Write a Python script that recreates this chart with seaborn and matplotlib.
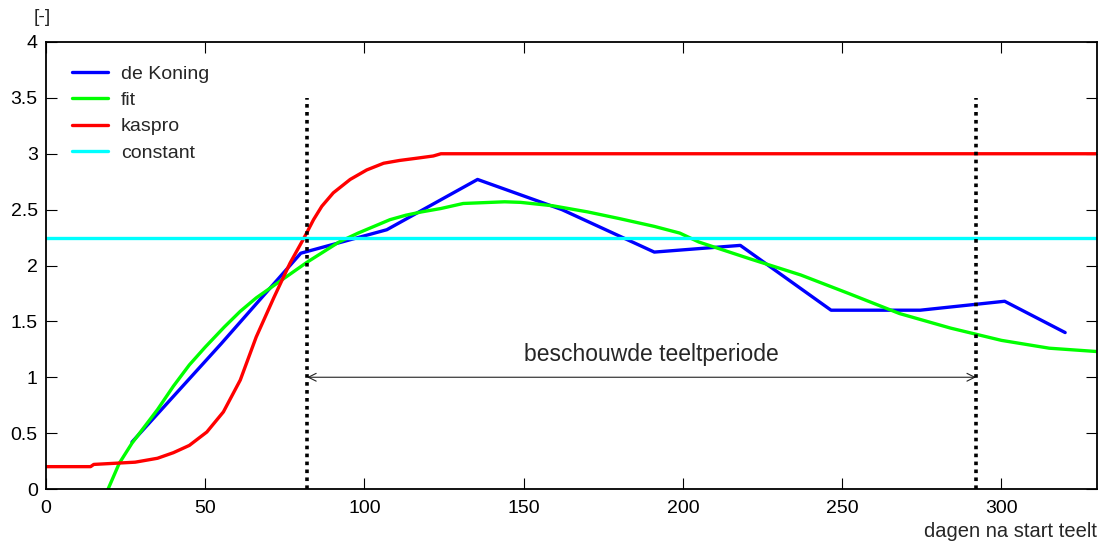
import matplotlib
matplotlib.use("Agg")
import matplotlib.pyplot as plt
import seaborn as sns
import pandas as pd

# Measured light-use values ("de Koning"), days after start of cultivation
koning_days = [27, 55, 80, 107, 135.5, 162, 191, 218, 246.5, 274.5, 301, 320]
koning_vals = [0.42, 1.30, 2.11, 2.32, 2.77, 2.50, 2.12, 2.18, 1.60, 1.60, 1.68, 1.40]

# Fitted curve
fit_days = [19.5, 23, 27, 35, 40, 45, 50, 56, 61, 66, 71, 77, 82, 87, 92, 98,
            103, 108, 113, 118, 124, 131, 144, 149, 159, 170, 180, 191, 199,
            205, 221, 237, 252, 268, 284, 300, 315, 330]
fit_vals = [0.0, 0.23, 0.41, 0.71, 0.92, 1.11, 1.27, 1.45, 1.59, 1.71, 1.81,
            1.93, 2.03, 2.12, 2.21, 2.29, 2.35, 2.41, 2.45, 2.48, 2.51, 2.555,
            2.57, 2.565, 2.535, 2.48, 2.42, 2.35, 2.29, 2.21, 2.06, 1.915,
            1.75, 1.57, 1.44, 1.33, 1.26, 1.23]

# KASPRO model curve
kaspro_days = [0, 14, 15, 28, 35, 40, 45, 50.5, 55.7, 61, 66, 71.5, 76.6,
               80.5, 82, 84, 86.6, 90.2, 95.5, 100.7, 106, 111, 116.4, 121.6,
               124, 330]
kaspro_vals = [0.20, 0.20, 0.22, 0.24, 0.275, 0.325, 0.39, 0.51, 0.69, 0.975,
               1.36, 1.71, 2.02, 2.22, 2.30, 2.41, 2.53, 2.65, 2.77, 2.855,
               2.915, 2.94, 2.96, 2.98, 3.0, 3.0]

# Constant value over the whole season
constant_days = [0, 330]
constant_vals = [2.25, 2.25]

# Considered cultivation period
period_start = 82
period_end = 292
period_marker_top = 3.5
period_arrow_level = 1.0
period_label = "beschouwde teeltperiode"

x_ticks = [0, 50, 100, 150, 200, 250, 300]
y_ticks = [0, 0.5, 1, 1.5, 2, 2.5, 3, 3.5, 4]
y_tick_labels = ["0", "0.5", "1", "1.5", "2", "2.5", "3", "3.5", "4"]

sns.set_style("ticks")
plt.rcParams["font.family"] = ["Liberation Sans", "DejaVu Sans"]

fig = plt.figure(figsize=(11.03, 5.47), dpi=100)
ax = fig.add_axes([46 / 1103, 58 / 547, 1051 / 1103, 447 / 547])

series = [
    ("de Koning", koning_days, koning_vals, (0, 0, 1)),
    ("fit", fit_days, fit_vals, (0, 1, 0)),
    ("kaspro", kaspro_days, kaspro_vals, (1, 0, 0)),
    ("constant", constant_days, constant_vals, (0, 1, 1)),
]
for name, xs, ys, col in series:
    df = pd.DataFrame({"dag": xs, "waarde": ys})
    sns.lineplot(data=df, x="dag", y="waarde", ax=ax, color=col, lw=2.4,
                 sort=False, label=name, estimator=None)

ax.vlines([period_start, period_end], 0, period_marker_top, colors="black",
          linestyles=(0, (1, 1.2)), linewidth=2.6, zorder=5)

ax.annotate("", xy=(period_start, period_arrow_level),
            xytext=(period_end, period_arrow_level),
            arrowprops=dict(arrowstyle="<->", lw=0.8, color="#222222",
                            mutation_scale=14, shrinkA=0, shrinkB=0))
ax.text((period_start + period_end) / 2 + 3, period_arrow_level + 0.2,
        period_label, ha="center", va="center", fontsize=16.5)

ax.set_xlim(0, 330)
ax.set_ylim(0, 4)
ax.set_xticks(x_ticks)
ax.set_yticks(y_ticks)
ax.set_yticklabels(y_tick_labels)
ax.set_xlabel("")
ax.set_ylabel("")
ax.tick_params(direction="in", length=8, width=0.8, top=True, right=True,
               labelsize=14, pad=6, colors="black")
ax.tick_params(axis="x", pad=8)
for sp in ax.spines.values():
    sp.set_visible(True)
    sp.set_linewidth(1.3)
    sp.set_color("black")

ax.text(-0.004, 1.054, "[-]", transform=ax.transAxes, ha="center",
        va="center", fontsize=14)
ax.text(1.0, -0.094, "dagen na start teelt", transform=ax.transAxes,
        ha="right", va="center", fontsize=14.5)

ax.legend(loc="upper left", bbox_to_anchor=(0.0247, 0.9485), frameon=False,
          fontsize=14, handlelength=1.85, handletextpad=0.67, labelspacing=0.45,
          borderpad=0, borderaxespad=0)

fig.savefig("out.png", dpi=100)
